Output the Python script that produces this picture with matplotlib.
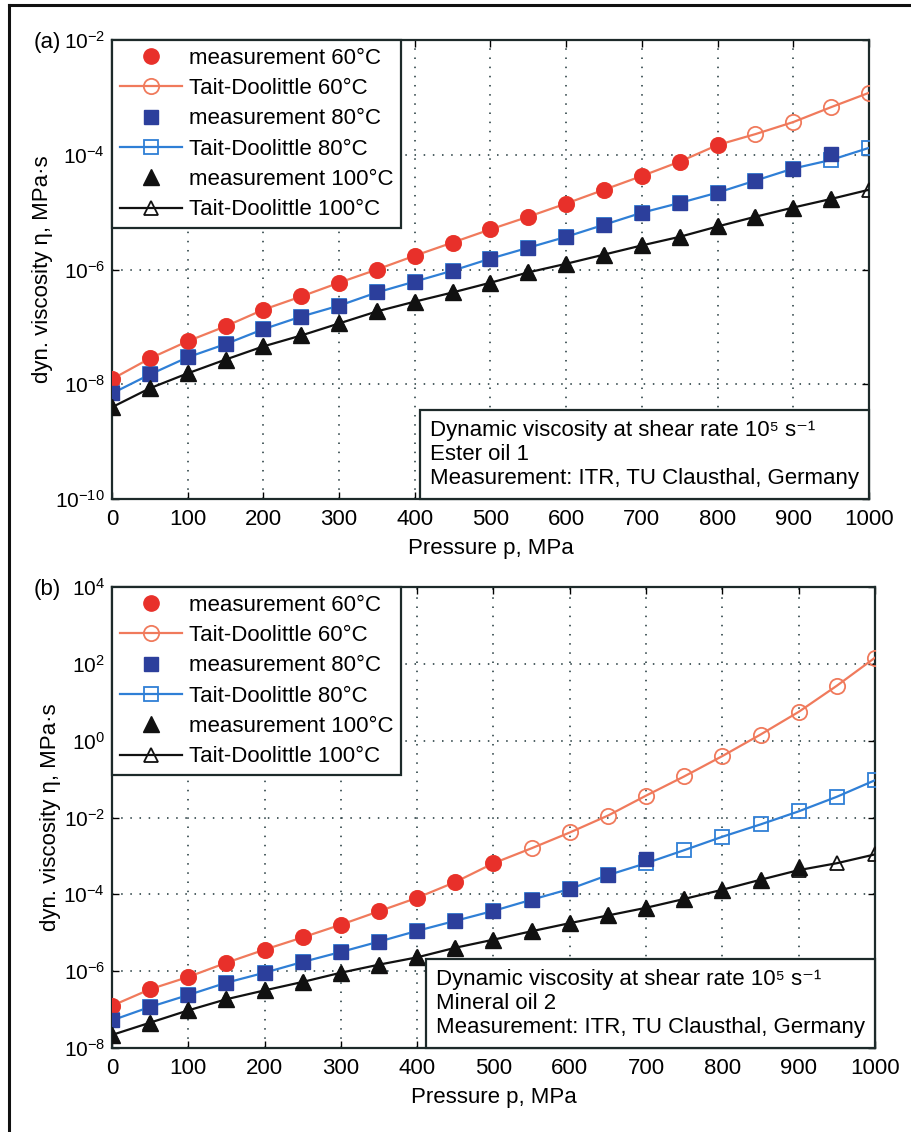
import matplotlib.pyplot as plt
import numpy as np
from matplotlib.lines import Line2D
from matplotlib.offsetbox import AnchoredText

plt.rcParams['font.family'] = ['Liberation Sans', 'DejaVu Sans']
plt.rcParams['mathtext.default'] = 'regular'

#data (log10 of viscosity in MPa*s)
p = [0, 50, 100, 150, 200, 250, 300, 350, 400, 450, 500,
     550, 600, 650, 700, 750, 800, 850, 900, 950, 1000]

# (a) ester oil 1
a_tait60 = [-7.91, -7.55, -7.25, -6.99, -6.70, -6.47, -6.23, -6.00, -5.76, -5.53, -5.30,
            -5.08, -4.85, -4.61, -4.37, -4.12, -3.83, -3.64, -3.43, -3.17, -2.92]
a_meas60 = [-7.91, -7.55, -7.25, -6.99, -6.70, -6.47, -6.23, -6.00, -5.76, -5.53, -5.30,
            -5.08, -4.85, -4.61, -4.37, -4.12, -3.83]
a_tait80 = [-8.16, -7.83, -7.53, -7.30, -7.04, -6.82, -6.63, -6.40, -6.21, -6.02, -5.81,
            -5.62, -5.43, -5.22, -5.01, -4.84, -4.66, -4.45, -4.24, -4.09, -3.88]
a_meas80 = [-8.16, -7.83, -7.53, -7.30, -7.04, -6.82, -6.63, -6.40, -6.21, -6.02, -5.81,
            -5.62, -5.43, -5.22, -5.01, -4.84, -4.66, -4.45, -4.24, -3.98]
a_tait100 = [-8.40, -8.07, -7.81, -7.57, -7.34, -7.15, -6.94, -6.73, -6.56, -6.40, -6.23,
             -6.05, -5.90, -5.74, -5.58, -5.43, -5.25, -5.08, -4.92, -4.77, -4.61]
a_meas100 = [-8.40, -8.07, -7.81, -7.57, -7.34, -7.15, -6.94, -6.73, -6.56, -6.40, -6.23,
             -6.05, -5.90, -5.74, -5.58, -5.43, -5.25, -5.08, -4.92, -4.77]

# (b) mineral oil 2
b_tait60 = [-6.90, -6.47, -6.15, -5.78, -5.44, -5.12, -4.79, -4.44, -4.09, -3.68, -3.19,
            -2.80, -2.39, -1.95, -1.43, -0.93, -0.40, 0.16, 0.75, 1.43, 2.16]
b_meas60 = [-6.90, -6.47, -6.15, -5.78, -5.44, -5.12, -4.79, -4.44, -4.09, -3.68, -3.19]
b_tait80 = [-7.28, -6.93, -6.62, -6.30, -6.04, -5.76, -5.50, -5.23, -4.95, -4.69, -4.43,
            -4.14, -3.86, -3.50, -3.19, -2.85, -2.50, -2.18, -1.84, -1.46, -1.03]
b_meas80 = [-7.28, -6.93, -6.62, -6.30, -6.04, -5.76, -5.50, -5.23, -4.95, -4.69, -4.43,
            -4.14, -3.86, -3.50, -3.08]
b_tait100 = [-7.66, -7.34, -7.02, -6.73, -6.50, -6.28, -6.04, -5.83, -5.64, -5.39, -5.18,
             -4.96, -4.75, -4.55, -4.35, -4.12, -3.88, -3.62, -3.37, -3.19, -2.96]
b_meas100 = [-7.66, -7.34, -7.02, -6.73, -6.50, -6.28, -6.04, -5.83, -5.64, -5.39, -5.18,
             -4.96, -4.75, -4.55, -4.35, -4.12, -3.88, -3.62, -3.30]

temps = ['60°C', '80°C', '100°C']
oils = ['Ester oil 1', 'Mineral oil 2']

#style
fs = 16
red = '#e8302a'
salmon = '#f07a5c'
navy = '#2c3f9c'
blue = '#2f7fd6'
blk = '#111111'
meas_style = [dict(marker='o', color=red, ms=11), dict(marker='s', color=navy, ms=10),
              dict(marker='^', color=blk, ms=11)]
tait_style = [dict(marker='o', color=salmon, ms=11), dict(marker='s', color=blue, ms=10),
              dict(marker='^', color=blk, ms=10)]

fig = plt.figure(figsize=(9.12, 11.32), dpi=100)
ax_a = fig.add_axes([112 / 912, 1 - 499 / 1132, 757 / 912, 459 / 1132])
ax_b = fig.add_axes([112 / 912, 1 - 1048 / 1132, 763 / 912, 461 / 1132])

panels = [
    (ax_a, [a_meas60, a_meas80, a_meas100], [a_tait60, a_tait80, a_tait100], (1e-10, 1e-2), oils[0], '(a)'),
    (ax_b, [b_meas60, b_meas80, b_meas100], [b_tait60, b_tait80, b_tait100], (1e-8, 1e4), oils[1], '(b)'),
]

for ax, meas, tait, ylim, oil, tag in panels:
    for i in range(3):
        ms_ = meas_style[i]
        ts_ = tait_style[i]
        ax.plot(p[:len(meas[i])], np.power(10.0, meas[i]), linestyle='none', marker=ms_['marker'],
                ms=ms_['ms'], color=ms_['color'], mec=ms_['color'], zorder=4,
                label='measurement ' + temps[i])
        ax.plot(p, np.power(10.0, tait[i]), '-', marker=ts_['marker'], ms=ts_['ms'],
                color=ts_['color'], mfc='none', mew=1.3, lw=1.6, zorder=3,
                label='Tait-Doolittle ' + temps[i])
    ax.set_yscale('log')
    ax.set_xlim(0, 1000)
    ax.set_ylim(*ylim)
    ax.set_xticks(range(0, 1001, 100))
    exps = range(int(np.log10(ylim[0])), int(np.log10(ylim[1])) + 1, 2)
    ax.set_yticks([10.0 ** e for e in exps])
    ax.set_yticklabels(['$10^{%d}$' % e for e in exps])
    ax.minorticks_off()
    ax.tick_params(direction='in', top=True, right=True, length=5, width=1, pad=7)
    ax.tick_params(axis='x', labelsize=fs)
    ax.tick_params(axis='y', labelsize=fs - 1, pad=5)
    ax.grid(True, linestyle=(0, (1, 5)), color='#1d3438', lw=1.1)
    for s in ax.spines.values():
        s.set_linewidth(1.6)
        s.set_color('#1d2a2a')
    ax.set_xlabel('Pressure p, MPa', fontsize=fs, labelpad=6)
    ax.set_ylabel('dyn. viscosity η, MPa·s', fontsize=fs, labelpad=2)

    leg = ax.legend(loc='upper left', borderaxespad=0, fontsize=fs, handlelength=2.8,
                    handletextpad=0.3, labelspacing=0.42, borderpad=0.35, fancybox=False,
                    framealpha=1, edgecolor='#1d2a2a')
    leg.get_frame().set_linewidth(1.6)
    leg.set_zorder(6)

    note = AnchoredText('Dynamic viscosity at shear rate 10⁵ s⁻¹\n' + oil +
                        '\nMeasurement: ITR, TU Clausthal, Germany',
                        loc='lower right', borderpad=0, pad=0.45, frameon=True,
                        prop=dict(size=fs, linespacing=1.2))
    note.patch.set_boxstyle('square,pad=0')
    note.patch.set_linewidth(1.6)
    note.patch.set_edgecolor('#1d2a2a')
    note.set_zorder(6)
    ax.add_artist(note)

    pos = ax.get_position()
    fig.text(61 / 912, pos.y1 - 0.002, tag, fontsize=fs, ha='right', va='center')

#figure frame lines (top and left)
fig.add_artist(Line2D([9 / 912, 1], [1 - 5 / 1132, 1 - 5 / 1132], color='#111111', lw=2.2))
fig.add_artist(Line2D([9 / 912, 9 / 912], [0, 1 - 5 / 1132], color='#111111', lw=2.2))

fig.savefig('out.png', dpi=100)
